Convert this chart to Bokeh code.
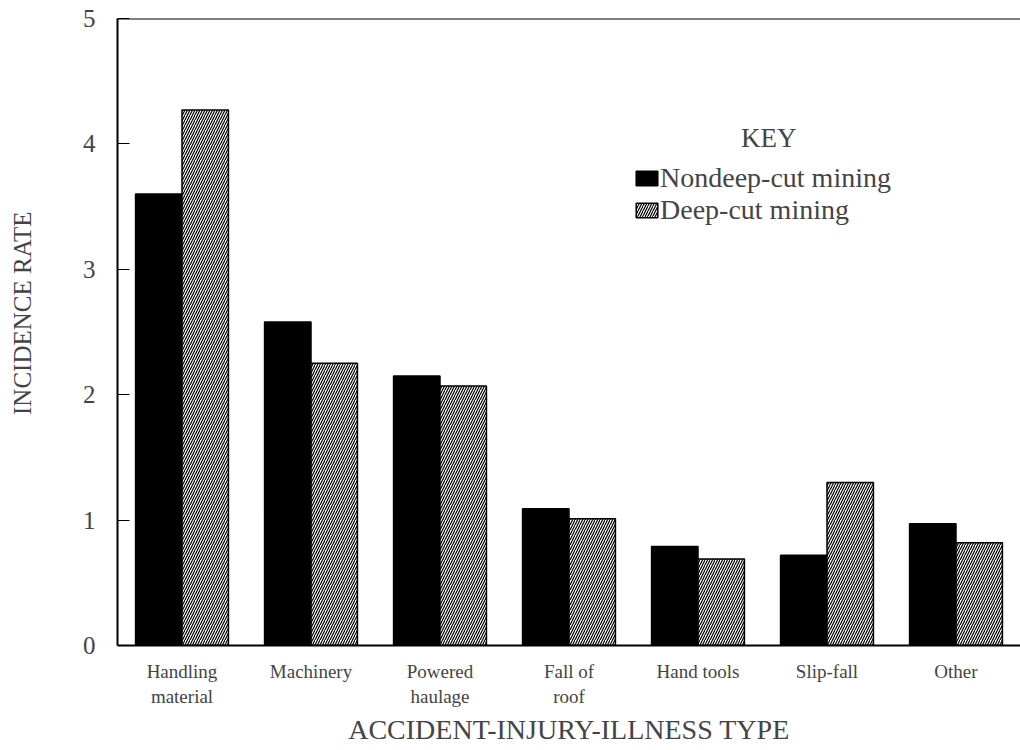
from bokeh.plotting import figure
from bokeh.models import ColumnDataSource, FactorRange, Legend, LegendItem, Span
from bokeh.transform import dodge
from bokeh.embed import file_html
from bokeh.resources import INLINE

categories = ["Handling\nmaterial", "Machinery", "Powered\nhaulage", "Fall of\nroof",
              "Hand tools", "Slip-fall", "Other"]
nondeep = [3.60, 2.58, 2.15, 1.09, 0.79, 0.72, 0.97]
deep = [4.27, 2.25, 2.07, 1.01, 0.69, 1.30, 0.82]
yticks = [0, 1, 2, 3, 4, 5]

FONT = "Liberation Serif"
NB = "\u00a0"

src = ColumnDataSource(dict(cat=categories, nondeep=nondeep, deep=deep))

p = figure(x_range=FactorRange(*categories), y_range=(0, 5),
           width=1020, height=750, output_backend="svg", toolbar_location=None,
           min_border_left=117, min_border_right=0, min_border_top=18, min_border_bottom=105)
p.x_range.range_padding = 0
p.grid.visible = False
p.outline_line_color = None
p.background_fill_color = "white"
p.border_fill_color = "white"

r1 = p.vbar(x=dodge("cat", -0.18, range=p.x_range), top="nondeep", width=0.36, source=src,
            fill_color="black", line_color="black", line_width=1.5)
r2 = p.vbar(x=dodge("cat", 0.18, range=p.x_range), top="deep", width=0.36, source=src,
            fill_color="white", line_color="black", line_width=1.5, hatch_pattern="/",
            hatch_color="black", hatch_scale=5, hatch_weight=1.2)

p.add_layout(Span(location=5, dimension="width", line_color="black", line_width=2))

ya = p.yaxis[0]
ya.ticker = yticks
ya.major_tick_in = 12
ya.major_tick_out = 0
ya.minor_tick_line_color = None
ya.axis_line_width = 2
ya.major_tick_line_width = 1
ya.major_label_text_font = FONT
ya.major_label_text_font_size = "25px"
ya.major_label_standoff = 22
ya.axis_label = NB * 6 + "INCIDENCE RATE"
ya.axis_label_text_font = FONT
ya.axis_label_text_font_size = "25px"
ya.axis_label_text_font_style = "normal"
ya.axis_label_standoff = 44

xa = p.xaxis[0]
xa.major_tick_line_color = None
xa.axis_line_width = 2
xa.major_label_text_font = FONT
xa.major_label_text_font_size = "19px"
xa.major_label_standoff = 9
xa.axis_label = "ACCIDENT-INJURY-ILLNESS TYPE"
xa.axis_label_text_font = FONT
xa.axis_label_text_font_size = "28px"
xa.axis_label_text_font_style = "normal"
xa.axis_label_standoff = 4

legend = Legend(items=[LegendItem(label="Nondeep-cut mining", renderers=[r1]),
                       LegendItem(label="Deep-cut mining", renderers=[r2])],
                location=(516, 419), title=NB * 16 + "KEY", title_text_font=FONT,
                title_text_font_size="27px", title_text_font_style="normal",
                title_standoff=8,
                label_text_font=FONT, label_text_font_size="28px",
                glyph_width=27, glyph_height=18, label_standoff=0, spacing=0,
                border_line_color=None, background_fill_alpha=0, padding=0, margin=0)
p.add_layout(legend)

open("out.html", "w").write(file_html(p, INLINE))
